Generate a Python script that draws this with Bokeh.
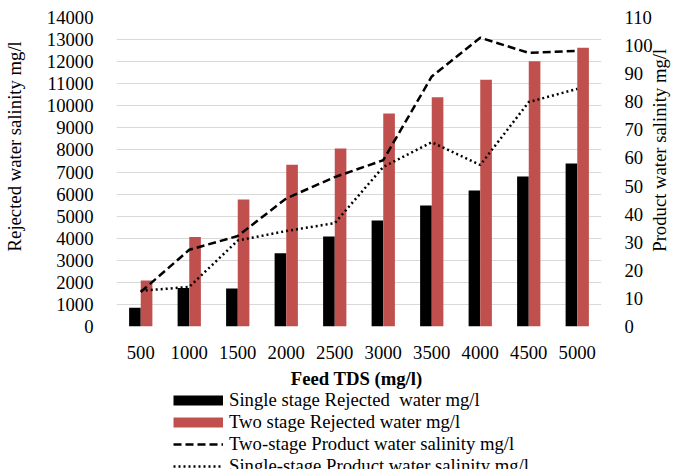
import math
from bokeh.plotting import figure
from bokeh.layouts import column
from bokeh.models import (ColumnDataSource, FactorRange, Range1d, LinearAxis, FixedTicker,
                          Legend, LegendItem)
from bokeh.transform import dodge
from bokeh.embed import file_html
from bokeh.resources import INLINE

# ---- data ----
feed_tds = ["500", "1000", "1500", "2000", "2500", "3000", "3500", "4000", "4500", "5000"]
single_rejected = [850, 1750, 1720, 3320, 4080, 4800, 5480, 6160, 6800, 7380]
two_rejected = [2080, 4060, 5750, 7330, 8070, 9650, 10390, 11180, 12020, 12630]
two_product = [12.3, 27.3, 32.2, 45.6, 53.2, 59.2, 89.0, 102.8, 97.4, 98.1]
single_product = [12.7, 14.1, 30.6, 34.0, 36.8, 56.8, 65.6, 57.5, 79.9, 84.6]

left_ticks = list(range(0, 14001, 1000))
right_ticks = list(range(0, 111, 10))
series_names = ["Single stage Rejected  water mg/l", "Two stage Rejected water mg/l",
                "Two-stage Product water salinity mg/l", "Single-stage Product water salinity mg/l"]

FONT = "Liberation Serif"
FS = "18.7px"
RED = "#C0504D"
GRID = "#D9D9D9"
NB = "\u00a0" * 11
NB_R = "\u00a0" * 16

src = ColumnDataSource(dict(feed=feed_tds, single_rej=single_rejected, two_rej=two_rejected,
                            two_prod=two_product, single_prod=single_product))

p = figure(x_range=FactorRange(*feed_tds), y_range=Range1d(0, 14000),
           frame_width=485, frame_height=309,
           min_border_left=116, min_border_right=77, min_border_top=17, min_border_bottom=62,
           output_backend="svg", toolbar_location=None)
p.extra_y_ranges = {"right": Range1d(0, 110)}
p.outline_line_color = None
p.background_fill_color = "white"
p.border_fill_color = "white"

b1 = p.vbar(x=dodge("feed", -0.12, range=p.x_range), top="single_rej", width=0.24,
            source=src, color="black", line_color=None)
b2 = p.vbar(x=dodge("feed", 0.12, range=p.x_range), top="two_rej", width=0.24,
            source=src, color=RED, line_color=None)
l1 = p.line(x="feed", y="two_prod", source=src, y_range_name="right",
            line_color="black", line_width=2.5, line_dash="8 4")
l2 = p.line(x="feed", y="single_prod", source=src, y_range_name="right",
            line_color="black", line_width=2.5, line_dash="2 3")

# axes
p.yaxis.ticker = FixedTicker(ticks=left_ticks)
p.ygrid.ticker = FixedTicker(ticks=left_ticks)
p.ygrid.grid_line_color = GRID
p.ygrid.grid_line_width = 1.2
p.xgrid.grid_line_color = None

ry = LinearAxis(y_range_name="right", ticker=FixedTicker(ticks=right_ticks))
p.add_layout(ry, "right")

for ax in (p.yaxis[0], p.xaxis[0], ry):
    ax.major_label_text_font = FONT
    ax.major_label_text_font_size = FS
    ax.major_label_text_color = "black"
    ax.major_tick_line_color = None
    ax.minor_tick_line_color = None
    ax.axis_line_color = None
    ax.axis_label_text_font = FONT
    ax.axis_label_text_font_size = FS
    ax.axis_label_text_color = "black"
    ax.axis_label_text_font_style = "normal"

p.yaxis[0].major_label_standoff = 17
p.yaxis[0].axis_label = NB + "Rejected water salinity mg/l"
p.yaxis[0].axis_label_standoff = 19

ry.major_label_standoff = 17
ry.axis_label = NB_R + "Product water salinity mg/l"
ry.axis_label_standoff = 4
ry.axis_label_orientation = math.pi / 2
ry.axis_label_align = "start"

p.xaxis.major_label_standoff = 13
p.xaxis.axis_label = "Feed TDS  (mg/l)"
p.xaxis.axis_label_text_font_style = "bold"
p.xaxis.axis_label_standoff = 6

# ---- legend strip below the chart (legend swatches as proxy glyphs) ----
q = figure(width=678, height=78, x_range=Range1d(0, 1), y_range=Range1d(0, 1),
           min_border=0, output_backend="svg", toolbar_location=None)
q.axis.visible = False
q.grid.visible = False
q.outline_line_color = None
q.border_fill_color = "white"
q.background_fill_color = "white"
sw1 = q.line(x=[0], y=[-1], line_color="black", line_width=10)
sw2 = q.line(x=[0], y=[-1], line_color=RED, line_width=10)
sw3 = q.line(x=[0], y=[-1], line_color="black", line_width=2.5, line_dash="8 4")
sw4 = q.line(x=[0], y=[-1], line_color="black", line_width=2.5, line_dash="2 3")

legend = Legend(items=[LegendItem(label=n, renderers=[r])
                       for n, r in zip(series_names, [sw1, sw2, sw3, sw4])],
                location=(57, -8), orientation="vertical")
legend.padding = 0
legend.margin = 0
legend.spacing = -1
legend.border_line_color = None
legend.background_fill_alpha = 0
legend.glyph_width = 50
legend.glyph_height = 20
legend.label_height = 20
legend.label_standoff = 6
legend.label_text_font = FONT
legend.label_text_font_size = FS
legend.label_text_line_height = 1.08
legend.label_text_color = "black"
q.add_layout(legend, "center")

layout = column(p, q, spacing=0)
open("out.html", "w").write(file_html(layout, INLINE))
